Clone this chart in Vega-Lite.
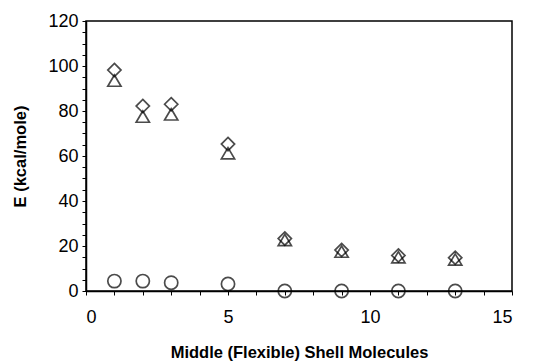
{
  "$schema": "https://vega.github.io/schema/vega-lite/v6.json",
  "width": 426,
  "height": 270,
  "autosize": {"type": "none"},
  "padding": {"left": 86, "top": 21, "right": 31, "bottom": 72},
  "background": "white",
  "config": {
    "view": {"stroke": "black", "strokeWidth": 1.5},
    "axis": {
      "domainColor": "black", "domainWidth": 1.5,
      "tickColor": "black", "tickWidth": 1, "tickSize": 4,
      "labelColor": "black", "labelFont": "Liberation Sans", "labelFontSize": 18,
      "titleColor": "black", "titleFont": "Liberation Sans", "titleFontSize": 16.5, "titleFontWeight": "bold",
      "grid": false
    }
  },
  "data": {
    "values": [
      {"n": 1, "E": 98.2, "series": "A"},
      {"n": 2, "E": 82.2, "series": "A"},
      {"n": 3, "E": 83.0, "series": "A"},
      {"n": 5, "E": 65.3, "series": "A"},
      {"n": 7, "E": 23.3, "series": "A"},
      {"n": 9, "E": 18.2, "series": "A"},
      {"n": 11, "E": 15.8, "series": "A"},
      {"n": 13, "E": 14.8, "series": "A"},
      {"n": 1, "E": 93.5, "series": "B"},
      {"n": 2, "E": 77.5, "series": "B"},
      {"n": 3, "E": 78.5, "series": "B"},
      {"n": 5, "E": 61.2, "series": "B"},
      {"n": 7, "E": 22.7, "series": "B"},
      {"n": 9, "E": 17.5, "series": "B"},
      {"n": 11, "E": 15.0, "series": "B"},
      {"n": 13, "E": 14.0, "series": "B"},
      {"n": 1, "E": 4.4, "series": "C"},
      {"n": 2, "E": 4.4, "series": "C"},
      {"n": 3, "E": 3.7, "series": "C"},
      {"n": 5, "E": 3.1, "series": "C"},
      {"n": 7, "E": 0, "series": "C"},
      {"n": 9, "E": 0, "series": "C"},
      {"n": 11, "E": 0, "series": "C"},
      {"n": 13, "E": 0, "series": "C"}
    ]
  },
  "mark": {"type": "point", "filled": false, "strokeWidth": 1.7, "size": 175, "color": "black", "clip": false},
  "encoding": {
    "x": {
      "field": "n", "type": "quantitative",
      "scale": {"domain": [0, 15], "nice": false, "zero": false},
      "axis": {
        "title": "Middle (Flexible) Shell Molecules",
        "values": [0,1,2,3,4,5,6,7,8,9,10,11,12,13,14,15],
        "labelExpr": "datum.value % 5 === 0 ? datum.label : ''",
        "labelPadding": 13,
        "titlePadding": 18
      }
    },
    "y": {
      "field": "E", "type": "quantitative",
      "scale": {"domain": [0, 120], "nice": false},
      "axis": {
        "title": "E (kcal/mole)",
        "values": [0,5,10,15,20,25,30,35,40,45,50,55,60,65,70,75,80,85,90,95,100,105,110,115,120],
        "labelExpr": "datum.value % 20 === 0 ? datum.label : ''",
        "labelPadding": 4,
        "titlePadding": 19
      }
    },
    "shape": {
      "field": "series", "type": "nominal",
      "scale": {
        "domain": ["A", "B", "C"],
        "range": ["M0,-1L1,0L0,1L-1,0Z", "M0,-0.85L1,0.85L-1,0.85Z", "circle"]
      },
      "legend": null
    }
  }
}
